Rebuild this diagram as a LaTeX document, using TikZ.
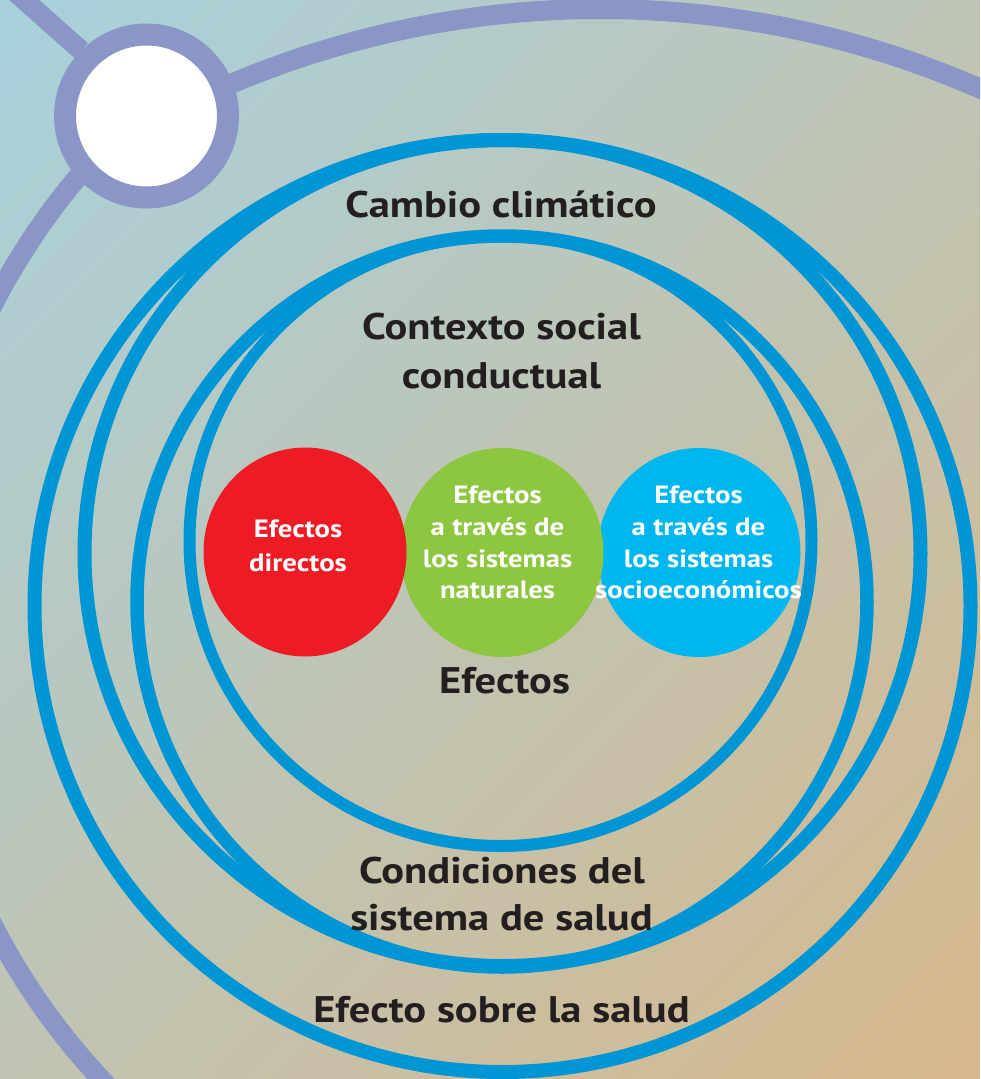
\documentclass[tikz,border=0pt]{standalone}
\usepackage{fontspec}
\setmainfont{PT Sans}[FakeStretch=1.15]
\usetikzlibrary{shapes.geometric}
\definecolor{bgA}{HTML}{A8D1DC}
\definecolor{bgM}{HTML}{C2C8BE}
\definecolor{bgB}{HTML}{D6B88C}
\definecolor{ringblue}{HTML}{0096D5}
\definecolor{orbit}{HTML}{8A96C5}
\definecolor{ink}{HTML}{231F20}
\definecolor{redb}{HTML}{ED1C24}
\definecolor{greenb}{HTML}{8DC63F}
\definecolor{cyanb}{HTML}{00B6EF}
\begin{document}
\begin{tikzpicture}[x=1pt,y=-1pt,
  bluering/.style={draw=ringblue, line width=14pt},
  purpleline/.style={draw=orbit, line width=20pt},
  bigtext/.style={font=\fontsize{37}{44}\selectfont\bfseries, text=ink, anchor=base, inner sep=0pt},
  smalltext/.style={font=\fontsize{25}{30}\selectfont\bfseries, text=white, anchor=base, inner sep=0pt},
  bubble/.style={ellipse, minimum width=203pt, minimum height=209pt, inner sep=0pt}]
\useasboundingbox (0,0) rectangle (980,1079);
\clip (0,0) rectangle (980,1079);
\shade[top color=bgA, middle color=bgM, bottom color=bgB, shading angle=45] (-200,-200) rectangle (1180,1279);
% orbits
\draw[purpleline] plot[domain=-118.4:-55, samples=120] ({600+947*cos(\x)},{956+947*sin(\x)});
\draw[purpleline] plot[domain=228:115, samples=150] ({598+680*cos(\x)},{615+680*sin(\x)});
\coordinate (corner) at (-27.5,-46);
\node[circle, fill=white, draw=orbit, line width=22pt, minimum size=163pt, inner sep=0pt] (planet) at (146.5,116) {};
\draw[purpleline] (corner) -- (planet.north west);
% rings
\draw[bluering] (502.5,606) ellipse[x radius=468, y radius=466];
\draw[bluering] (502.5,553) ellipse[x radius=418, y radius=413];
\draw[bluering, line width=13.5pt] (502,601.5) ellipse[x radius=365, y radius=365.5];
\draw[bluering, line width=12pt] (500.5,541) ellipse[x radius=311, y radius=305];
% bubbles
\node[bubble, fill=cyanb] (socio) at (699,552.5) {};
\node[bubble, fill=greenb] (nat) at (502,552.5) {};
\node[bubble, fill=redb] (dir) at (305,552) {};
% bubble texts
\node[smalltext] (d1) at (298,537) {Efectos};
\node[smalltext] (d2) at (298,571) {directos};
\node[smalltext] (n1) at (497.5,503) {Efectos};
\node[smalltext] (n2) at (497.5,535) {a través de};
\node[smalltext] (n3) at (497.5,567) {los sistemas};
\node[smalltext] (n4) at (497.5,598) {naturales};
\node[smalltext] (s1) at (698.5,503) {Efectos};
\node[smalltext] (s2) at (698.5,535) {a través de};
\node[smalltext] (s3) at (698.5,567) {los sistemas};
\node[smalltext] (s4) at (698.5,598) {socioeconómicos};
% labels
\node[bigtext] (cc) at (501,217) {Cambio climático};
\node[bigtext] (ctx1) at (501.5,339) {Contexto social};
\node[bigtext] (ctx2) at (501.5,388) {conductual};
\node[bigtext] (ef) at (504.5,693) {Efectos};
\node[bigtext] (cond1) at (502,883) {Condiciones del};
\node[bigtext] (cond2) at (501.5,930) {sistema de salud};
\node[bigtext] (efs) at (501.5,1022) {Efecto sobre la salud};
\end{tikzpicture}
\end{document}
